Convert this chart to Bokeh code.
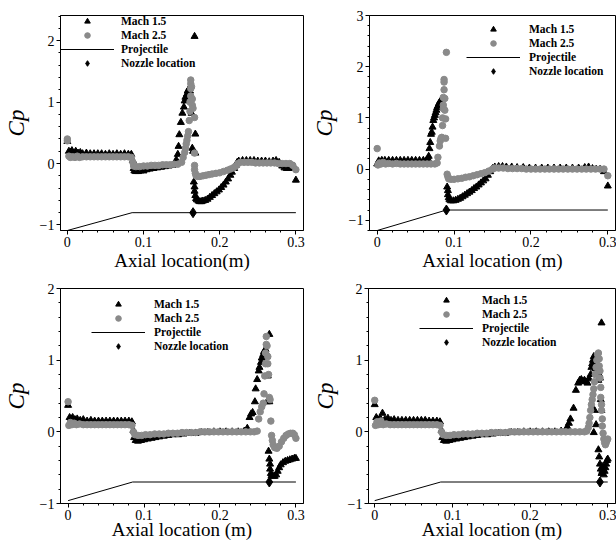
import math
from bokeh.plotting import figure
from bokeh.layouts import column, row
from bokeh.models import Range1d, FixedTicker, Legend, LegendItem
from bokeh.embed import file_html
from bokeh.resources import INLINE

# ---------------- data ----------------
x_ticks = [0, 0.1, 0.2, 0.3]
x_tick_labels = {0: "0", 0.1: "0.1", 0.2: "0.2", 0.3: "0.3"}
series_names = ["Mach 1.5", "Mach 2.5", "Projectile", "Nozzle location"]
x_titles = ["Axial location(m)", "Axial location (m)", "Axial location (m)", "Axial location (m)"]
y_title = "Cp"

# Panel 1 (top-left)
p1_m15_x = [0.000, 0.002, 0.004, 0.006, 0.008, 0.011, 0.014, 0.017, 0.020, 0.025, 0.030, 0.035, 0.040, 0.045, 0.050, 0.055, 0.060, 0.065, 0.070, 0.075, 0.080, 0.084,
            0.086, 0.087, 0.088, 0.090, 0.093, 0.096, 0.100, 0.104, 0.108, 0.113, 0.118, 0.123, 0.128, 0.133, 0.138,
            0.141, 0.143, 0.145, 0.146, 0.147, 0.149, 0.151, 0.153, 0.154, 0.155, 0.157, 0.158, 0.159, 0.160, 0.161, 0.162, 0.163, 0.164, 0.165,
            0.167, 0.168, 0.168,
            0.166, 0.167, 0.167, 0.168, 0.169, 0.170, 0.172, 0.174, 0.176, 0.178, 0.181, 0.184, 0.187, 0.190, 0.193, 0.196, 0.199, 0.202, 0.205, 0.208, 0.211, 0.214, 0.216, 0.219, 0.221, 0.223,
            0.225, 0.230, 0.235, 0.240, 0.245, 0.250, 0.255, 0.260, 0.265, 0.270, 0.274, 0.278, 0.282, 0.285, 0.288, 0.291, 0.294, 0.297, 0.300]
p1_m15_y = [0.36, 0.20, 0.18, 0.21, 0.17, 0.20, 0.17, 0.18, 0.16, 0.17, 0.16, 0.16, 0.16, 0.16, 0.15, 0.16, 0.15, 0.16, 0.15, 0.16, 0.15, 0.15,
            0.05, -0.08, -0.12, -0.13, -0.13, -0.12, -0.12, -0.10, -0.09, -0.08, -0.07, -0.06, -0.05, -0.04, -0.03,
            0.00, 0.06, 0.15, 0.28, 0.47, 0.67, 0.82, 0.92, 1.02, 1.08, 1.13, 1.18, 1.20, 1.22, 1.18, 1.10, 0.82, 0.25, 0.20,
            2.07, 0.48, 0.17,
            -0.30, -0.38, -0.45, -0.52, -0.57, -0.59, -0.61, -0.62, -0.62, -0.61, -0.60, -0.58, -0.55, -0.52, -0.49, -0.46, -0.43, -0.39, -0.35, -0.30, -0.25, -0.19, -0.14, -0.08, -0.03, 0.02,
            0.04, 0.05, 0.05, 0.05, 0.05, 0.04, 0.04, 0.04, 0.03, 0.04, 0.05, 0.02, -0.04, -0.07, -0.08, -0.08, -0.06, -0.04, -0.27]
p1_m25_x = [0.000, 0.000, 0.002, 0.004, 0.007, 0.010, 0.013, 0.016, 0.020, 0.025, 0.030, 0.035, 0.040, 0.045, 0.050, 0.055, 0.060, 0.065, 0.070, 0.075, 0.080, 0.084,
            0.086, 0.087, 0.090, 0.095, 0.100, 0.105, 0.110, 0.115, 0.120, 0.125, 0.130, 0.135, 0.140, 0.145, 0.150,
            0.152, 0.154, 0.155, 0.156, 0.157, 0.158, 0.159, 0.160, 0.161, 0.161, 0.162, 0.162, 0.162, 0.162, 0.163, 0.164, 0.164, 0.165, 0.167, 0.167,
            0.167, 0.167, 0.168, 0.169, 0.171, 0.174, 0.178, 0.182, 0.186, 0.190, 0.195, 0.200, 0.205, 0.210, 0.214, 0.218, 0.221, 0.224,
            0.227, 0.232, 0.237, 0.242, 0.247, 0.252, 0.257, 0.262, 0.267, 0.272, 0.277, 0.282, 0.287, 0.292, 0.296, 0.300]
p1_m25_y = [0.40, 0.37, 0.12, 0.10, 0.11, 0.10, 0.12, 0.10, 0.11, 0.11, 0.11, 0.11, 0.11, 0.11, 0.11, 0.11, 0.11, 0.11, 0.11, 0.11, 0.11, 0.10,
            0.02, -0.04, -0.05, -0.05, -0.04, -0.04, -0.03, -0.03, -0.03, -0.02, -0.02, -0.02, -0.01, -0.01, 0.02,
            0.10, 0.18, 0.25, 0.32, 0.38, 0.45, 0.52, 0.70, 0.85, 1.00, 1.10, 1.22, 1.30, 1.36, 1.25, 1.05, 0.95, 0.90, 0.75, 0.17,
            -0.03, -0.10, -0.16, -0.20, -0.21, -0.21, -0.20, -0.19, -0.18, -0.17, -0.16, -0.15, -0.13, -0.11, -0.09, -0.07, -0.04, 0.00,
            0.02, 0.02, 0.02, 0.02, 0.01, 0.01, 0.01, 0.01, 0.01, 0.01, 0.00, 0.00, 0.00, 0.00, -0.03, -0.10]
p1_proj_x = [0.0, 0.085, 0.3]
p1_proj_y = [-1.09, -0.8, -0.8]
p1_noz_x = [0.165]
p1_noz_y = [-0.8]

# Panel 2 (top-right)
p2_m15_x = [0.000, 0.002, 0.006, 0.010, 0.015, 0.020, 0.025, 0.030, 0.035, 0.040, 0.045, 0.050, 0.055, 0.060, 0.064,
            0.066, 0.067, 0.068, 0.069, 0.070, 0.071, 0.072, 0.073, 0.074, 0.075, 0.076, 0.077, 0.078, 0.079, 0.080, 0.081, 0.082,
            0.091, 0.092, 0.092, 0.093, 0.094, 0.096, 0.099, 0.102, 0.105, 0.108, 0.111, 0.114, 0.117, 0.120, 0.123, 0.126, 0.129, 0.132, 0.135, 0.138, 0.141, 0.144, 0.147, 0.150,
            0.153, 0.158, 0.163, 0.168, 0.175, 0.182, 0.190, 0.198, 0.206, 0.214, 0.222, 0.230, 0.238, 0.246, 0.254, 0.262, 0.270, 0.275, 0.280, 0.285, 0.290, 0.295, 0.300]
p2_m15_y = [0.10, 0.16, 0.17, 0.17, 0.17, 0.17, 0.17, 0.17, 0.17, 0.17, 0.17, 0.17, 0.17, 0.17, 0.17,
            0.20, 0.25, 0.40, 0.52, 0.68, 0.72, 0.82, 0.95, 1.00, 1.05, 1.10, 1.15, 1.20, 1.23, 1.27, 1.30, 1.32,
            -0.35, -0.42, -0.50, -0.56, -0.60, -0.62, -0.62, -0.61, -0.59, -0.57, -0.54, -0.51, -0.48, -0.45, -0.42, -0.38, -0.35, -0.31, -0.27, -0.23, -0.19, -0.12, -0.05, 0.01,
            0.04, 0.05, 0.05, 0.04, 0.04, 0.03, 0.03, 0.02, 0.02, 0.02, 0.02, 0.02, 0.02, 0.02, 0.02, 0.02, 0.03, 0.04, 0.01, 0.00, 0.00, -0.05, -0.33]
p2_m25_x = [0.000, 0.001, 0.003, 0.005, 0.008, 0.011, 0.015, 0.020, 0.025, 0.030, 0.035, 0.040, 0.045, 0.050, 0.055, 0.060, 0.065, 0.070, 0.075, 0.078,
            0.079, 0.081, 0.082, 0.083, 0.084, 0.085, 0.085, 0.086, 0.086, 0.086, 0.087, 0.087, 0.087, 0.088, 0.088, 0.089, 0.089, 0.090,
            0.091, 0.092, 0.093, 0.096, 0.100, 0.105, 0.110, 0.115, 0.120, 0.125, 0.130, 0.135, 0.140, 0.145, 0.150,
            0.153, 0.158, 0.164, 0.170, 0.176, 0.182, 0.188, 0.194, 0.200, 0.206, 0.212, 0.218, 0.224, 0.230, 0.236, 0.242, 0.248, 0.254, 0.260, 0.266, 0.272, 0.278, 0.284, 0.290, 0.295, 0.300]
p2_m25_y = [0.40, 0.08, 0.12, 0.10, 0.13, 0.10, 0.11, 0.10, 0.11, 0.10, 0.10, 0.10, 0.10, 0.10, 0.10, 0.10, 0.10, 0.10, 0.10, 0.12,
            0.23, 0.45, 0.55, 0.60, 0.62, 0.85, 1.00, 1.18, 1.25, 1.40, 1.55, 1.70, 1.75, 1.38, 1.15, 0.98, 0.60, 2.28,
            -0.10, -0.15, -0.19, -0.20, -0.20, -0.19, -0.18, -0.16, -0.15, -0.13, -0.11, -0.09, -0.07, -0.04, 0.00,
            0.02, 0.02, 0.02, 0.01, 0.01, 0.01, 0.01, 0.00, 0.00, 0.00, 0.00, 0.00, 0.00, 0.00, 0.00, 0.00, 0.00, 0.00, 0.00, 0.00, 0.00, 0.00, 0.00, 0.00, 0.00, -0.13]
p2_proj_x = [0.0, 0.09, 0.3]
p2_proj_y = [-1.2, -0.8, -0.8]
p2_noz_x = [0.09]
p2_noz_y = [-0.8]

# Panel 3 (bottom-left)
p3_m15_x = [0.000, 0.002, 0.004, 0.006, 0.009, 0.012, 0.016, 0.020, 0.025, 0.030, 0.035, 0.040, 0.045, 0.050, 0.055, 0.060, 0.065, 0.070, 0.075, 0.080, 0.084,
            0.086, 0.087, 0.089, 0.092, 0.096, 0.100, 0.105, 0.110, 0.115, 0.120, 0.126, 0.132, 0.138, 0.145, 0.152, 0.160, 0.168, 0.176, 0.184, 0.192, 0.200, 0.208, 0.216, 0.224, 0.232,
            0.236, 0.239, 0.241, 0.243, 0.246, 0.247, 0.249, 0.251, 0.252, 0.254, 0.255, 0.257, 0.258, 0.260, 0.261, 0.262, 0.263, 0.262, 0.265, 0.265,
            0.264, 0.265, 0.266, 0.266, 0.267, 0.268, 0.270, 0.272, 0.274, 0.276, 0.278, 0.280, 0.283, 0.286, 0.289, 0.292, 0.295, 0.298, 0.300]
p3_m15_y = [0.37, 0.20, 0.18, 0.20, 0.17, 0.18, 0.16, 0.17, 0.15, 0.16, 0.15, 0.15, 0.15, 0.15, 0.15, 0.15, 0.15, 0.15, 0.15, 0.15, 0.14,
            0.02, -0.08, -0.12, -0.13, -0.12, -0.11, -0.10, -0.09, -0.08, -0.07, -0.06, -0.05, -0.04, -0.04, -0.03, -0.02, -0.02, -0.01, -0.01, 0.00, 0.00, 0.00, 0.00, 0.00, 0.01,
            0.05, 0.20, 0.25, 0.27, 0.42, 0.60, 0.73, 0.85, 0.90, 0.97, 1.03, 1.08, 1.12, 1.15, 1.10, 1.05, 0.78, 0.42, 1.36, 0.42,
            -0.27, -0.38, -0.45, -0.52, -0.58, -0.61, -0.62, -0.62, -0.60, -0.55, -0.50, -0.46, -0.43, -0.41, -0.40, -0.39, -0.38, -0.37, -0.37]
p3_m25_x = [0.000, 0.001, 0.003, 0.005, 0.008, 0.011, 0.015, 0.020, 0.025, 0.030, 0.035, 0.040, 0.045, 0.050, 0.055, 0.060, 0.065, 0.070, 0.075, 0.080, 0.084,
            0.086, 0.088, 0.092, 0.097, 0.102, 0.108, 0.114, 0.120, 0.126, 0.132, 0.138, 0.144, 0.150, 0.156, 0.162, 0.168, 0.174, 0.180, 0.186, 0.192, 0.198, 0.204, 0.210, 0.216, 0.222, 0.228, 0.234, 0.240, 0.245, 0.249,
            0.251, 0.253, 0.255, 0.257, 0.258, 0.259, 0.260, 0.260, 0.261, 0.261, 0.262, 0.263, 0.263, 0.264, 0.265, 0.266, 0.267,
            0.268, 0.269, 0.270, 0.272, 0.275, 0.278, 0.281, 0.284, 0.287, 0.290, 0.293, 0.296, 0.298, 0.300]
p3_m25_y = [0.42, 0.09, 0.13, 0.10, 0.12, 0.10, 0.11, 0.10, 0.10, 0.10, 0.10, 0.10, 0.10, 0.10, 0.10, 0.10, 0.10, 0.10, 0.10, 0.10, 0.09,
            0.00, -0.04, -0.05, -0.05, -0.04, -0.04, -0.03, -0.03, -0.03, -0.02, -0.02, -0.02, -0.01, -0.01, -0.01, -0.01, 0.00, 0.00, 0.00, 0.00, 0.00, 0.00, 0.00, 0.00, 0.00, 0.00, 0.00, 0.00, 0.00, 0.01,
            0.18, 0.28, 0.35, 0.40, 0.53, 0.78, 0.95, 1.10, 1.22, 1.33, 1.20, 1.05, 0.95, 0.80, 0.48, 0.45, 0.15,
            -0.05, -0.12, -0.18, -0.22, -0.23, -0.20, -0.14, -0.09, -0.05, -0.03, -0.02, -0.02, -0.04, -0.09]
p3_proj_x = [0.0, 0.085, 0.3]
p3_proj_y = [-0.96, -0.7, -0.7]
p3_noz_x = [0.265]
p3_noz_y = [-0.7]

# Panel 4 (bottom-right)
p4_m15_x = [0.000, 0.002, 0.004, 0.007, 0.010, 0.013, 0.017, 0.021, 0.025, 0.030, 0.035, 0.040, 0.045, 0.050, 0.055, 0.060, 0.065, 0.070, 0.075, 0.080, 0.084,
            0.086, 0.087, 0.089, 0.092, 0.096, 0.100, 0.105, 0.110, 0.115, 0.120, 0.126, 0.132, 0.138, 0.145, 0.152, 0.160, 0.168, 0.176, 0.184, 0.192, 0.200, 0.208, 0.216, 0.224, 0.232, 0.240, 0.246,
            0.248, 0.250, 0.252, 0.256, 0.259, 0.262, 0.264, 0.266, 0.268, 0.270, 0.272, 0.274, 0.276, 0.278, 0.279, 0.280, 0.281, 0.282, 0.283, 0.284, 0.283, 0.282, 0.285, 0.288, 0.289, 0.290, 0.291, 0.292, 0.292,
            0.288, 0.289, 0.290, 0.291, 0.292, 0.293, 0.294, 0.295, 0.296, 0.297, 0.298, 0.299, 0.300]
p4_m15_y = [0.38, 0.20, 0.17, 0.19, 0.26, 0.17, 0.19, 0.16, 0.17, 0.16, 0.16, 0.16, 0.16, 0.16, 0.16, 0.16, 0.16, 0.15, 0.15, 0.15, 0.14,
            0.02, -0.08, -0.12, -0.13, -0.12, -0.11, -0.10, -0.09, -0.08, -0.07, -0.06, -0.05, -0.04, -0.04, -0.03, -0.02, -0.02, -0.01, -0.01, 0.00, 0.00, 0.00, 0.00, 0.00, 0.00, 0.01, 0.02,
            0.07, 0.12, 0.18, 0.33, 0.58, 0.68, 0.72, 0.73, 0.70, 0.72, 0.70, 0.68, 0.74, 0.80, 0.90, 0.95, 1.00, 1.05, 0.92, 0.88, 0.30, -0.01, 0.10, 0.72, 0.80, 0.75, 0.45, 0.30, 1.52,
            -0.25, -0.35, -0.45, -0.52, -0.58, -0.55, -0.48, -0.60, -0.55, -0.50, -0.45, -0.40, -0.38]
p4_m25_x = [0.000, 0.001, 0.003, 0.005, 0.008, 0.011, 0.015, 0.020, 0.025, 0.030, 0.035, 0.040, 0.045, 0.050, 0.055, 0.060, 0.065, 0.070, 0.075, 0.080, 0.084,
            0.086, 0.088, 0.092, 0.097, 0.102, 0.108, 0.114, 0.120, 0.126, 0.132, 0.138, 0.144, 0.150, 0.156, 0.162, 0.168, 0.174, 0.180, 0.186, 0.192, 0.198, 0.204, 0.210, 0.216, 0.222, 0.228, 0.234, 0.240, 0.246, 0.252, 0.258, 0.264, 0.270, 0.273,
            0.275, 0.276, 0.277, 0.278, 0.279, 0.280, 0.281, 0.282, 0.283, 0.284, 0.285, 0.286, 0.287, 0.288, 0.289, 0.289, 0.290, 0.290, 0.291, 0.291, 0.292, 0.292, 0.293, 0.293,
            0.294, 0.295, 0.296, 0.297, 0.298, 0.299, 0.300]
p4_m25_y = [0.44, 0.09, 0.14, 0.10, 0.15, 0.10, 0.11, 0.10, 0.10, 0.10, 0.10, 0.10, 0.10, 0.10, 0.10, 0.10, 0.10, 0.10, 0.10, 0.10, 0.09,
            0.00, -0.04, -0.05, -0.05, -0.04, -0.04, -0.03, -0.03, -0.03, -0.02, -0.02, -0.02, -0.01, -0.01, -0.01, -0.01, 0.00, 0.00, 0.00, 0.00, 0.00, 0.00, 0.00, 0.00, 0.00, 0.00, 0.00, 0.00, 0.00, 0.00, 0.00, 0.00, 0.00, 0.01,
            0.06, 0.12, 0.20, 0.30, 0.38, 0.45, 0.52, 0.60, 0.70, 0.80, 0.90, 1.00, 1.08, 1.10, 1.02, 0.92, 0.85, 0.75, 0.62, 0.48, 0.38, 0.30, 0.18, 0.08,
            -0.02, -0.10, -0.15, -0.18, -0.15, -0.12, -0.10]
p4_proj_x = [0.0, 0.085, 0.3]
p4_proj_y = [-0.96, -0.7, -0.7]
p4_noz_x = [0.29]
p4_noz_y = [-0.7]

# ---------------- styling / layout ----------------
FONT = "Liberation Serif"
BLACK = "#000000"
GREY = "#8a8a8a"


def make_panel(m15x, m15y, m25x, m25y, projx, projy, nozx, nozy, xtitle,
               xr, yr, y_major, width, height, borders, legend_xy, standoff, cp_standoff, xl_standoff):
    bl, br, bt, bb = borders
    p = figure(width=width, height=height, x_range=Range1d(*xr), y_range=Range1d(*yr),
               output_backend="svg", toolbar_location=None, tools="",
               min_border_left=bl, min_border_right=br, min_border_top=bt, min_border_bottom=bb)
    p.grid.visible = False
    p.background_fill_color = "white"
    p.border_fill_color = "white"
    p.outline_line_color = BLACK
    p.outline_line_width = 1
    p.outline_line_alpha = 1

    x_minor = [round(0.02 * k, 2) for k in range(0, 16)]
    y_minor = [round(0.2 * k, 1) for k in range(-6, 16)]
    p.xaxis.ticker = FixedTicker(ticks=x_ticks, minor_ticks=x_minor)
    p.xaxis.major_label_overrides = x_tick_labels
    p.yaxis.ticker = FixedTicker(ticks=y_major, minor_ticks=y_minor)
    for ax in (p.xaxis[0], p.yaxis[0]):
        ax.axis_line_color = BLACK
        ax.major_tick_line_color = BLACK
        ax.minor_tick_line_color = BLACK
        ax.major_tick_out = 4
        ax.major_tick_in = 0
        ax.minor_tick_out = 2
        ax.minor_tick_in = 0
        ax.major_label_text_font = FONT
        ax.major_label_text_font_size = "14px"
        ax.major_label_text_color = BLACK
        ax.axis_label_text_font = FONT
        ax.axis_label_text_color = BLACK
    p.xaxis.major_label_standoff = 2
    p.yaxis.major_label_standoff = 2
    p.xaxis.axis_label = xtitle
    p.xaxis.axis_label_text_font_size = "19px"
    p.xaxis.axis_label_text_font_style = "normal"
    p.xaxis.axis_label_standoff = xl_standoff
    p.yaxis.axis_label = y_title
    p.yaxis.axis_label_text_font_size = "23px"
    p.yaxis.axis_label_text_font_style = "italic"
    p.yaxis.axis_label_standoff = cp_standoff

    r_proj = p.line(projx, projy, line_color=BLACK, line_width=1)
    r15 = p.scatter(m15x, m15y, marker="triangle", size=7, fill_color=BLACK, line_color=BLACK)
    r25 = p.scatter(m25x, m25y, marker="circle", size=6.5, fill_color=GREY, line_color=GREY)
    r_noz = p.scatter(nozx, nozy, marker="diamond", size=10, fill_color=BLACK, line_color=BLACK)

    legend = Legend(items=[LegendItem(label=series_names[0], renderers=[r15]),
                           LegendItem(label=series_names[1], renderers=[r25]),
                           LegendItem(label=series_names[2], renderers=[r_proj]),
                           LegendItem(label=series_names[3], renderers=[r_noz])],
                    location=legend_xy, orientation="vertical",
                    glyph_width=54, glyph_height=14, label_height=14, label_width=20,
                    label_standoff=standoff, spacing=0, padding=0, margin=0,
                    border_line_alpha=0, background_fill_alpha=0,
                    label_text_font=FONT, label_text_font_style="bold",
                    label_text_font_size="11.5px", label_text_color=BLACK)
    p.add_layout(legend)
    return p


p1 = make_panel(p1_m15_x, p1_m15_y, p1_m25_x, p1_m25_y, p1_proj_x, p1_proj_y, p1_noz_x, p1_noz_y, x_titles[0],
                (-0.009, 0.31), (-1.09, 2.41), [-1, 0, 1, 2], 308, 275, (53, 5, 11, 44),
                (0, 160), 7, 8, 0)
p2 = make_panel(p2_m15_x, p2_m15_y, p2_m25_x, p2_m25_y, p2_proj_x, p2_proj_y, p2_noz_x, p2_noz_y, x_titles[1],
                (-0.01, 0.31), (-1.2, 3.0), [-1, 0, 1, 2, 3], 308, 275, (57, 1, 15, 45),
                (97, 152), 9, 9, 0)
p3 = make_panel(p3_m15_x, p3_m15_y, p3_m25_x, p3_m25_y, p3_proj_x, p3_proj_y, p3_noz_x, p3_noz_y, x_titles[2],
                (-0.01, 0.31), (-1.0, 2.0), [-1, 0, 1, 2], 308, 267, (54, 5, 11, 39),
                (31, 150), 9, 8, -4)
p4 = make_panel(p4_m15_x, p4_m15_y, p4_m25_x, p4_m25_y, p4_proj_x, p4_proj_y, p4_noz_x, p4_noz_y, x_titles[3],
                (-0.008, 0.31), (-1.0, 2.0), [-1, 0, 1, 2], 308, 267, (60, 1, 13, 38),
                (51, 154), 9, 7, -4)

layout = column(row(p1, p2), row(p3, p4))
open("out.html", "w").write(file_html(layout, INLINE))
